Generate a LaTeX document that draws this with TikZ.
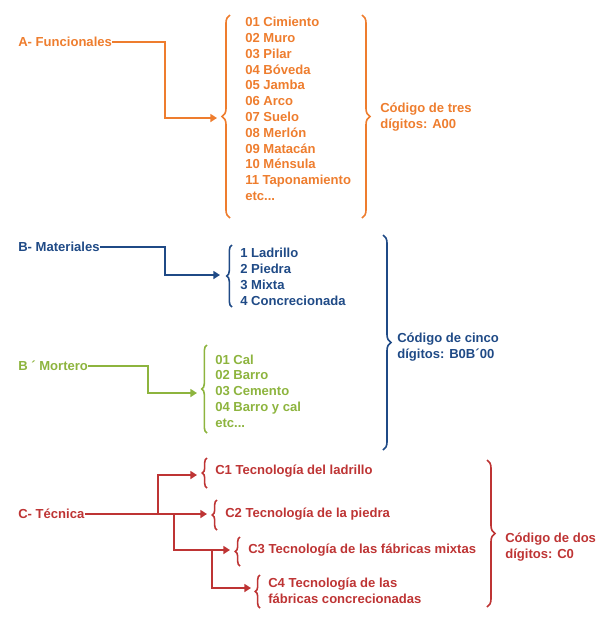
\documentclass[tikz,border=0pt]{standalone}
\usepackage{fontspec}
\setmainfont{Liberation Sans}
\usetikzlibrary{decorations.pathreplacing,arrows.meta}
\definecolor{cA}{HTML}{EE7D2E}
\definecolor{cB}{HTML}{1F4A86}
\definecolor{cM}{HTML}{8DB43E}
\definecolor{cC}{HTML}{BE3434}
\begin{document}
\begin{tikzpicture}[x=0.75pt,y=-0.75pt,
  lbl/.style={font=\bfseries\fontsize{9.8}{11.85}\selectfont,inner sep=0pt,anchor=west,align=left},
  conn/.style={line width=2.2pt,-{Triangle[length=5pt,width=6pt]}},
  br/.style={line width=1.2pt,decorate,decoration={brace,amplitude=#1}},
  br/.default=6pt]
\useasboundingbox (0,0) rectangle (600,633);
% A
\node[lbl,text=cA] (A) at (18,42) {A- Funcionales};
\node[lbl,text=cA] (Al) at (245,109) {01 Cimiento\\02 Muro\\03 Pilar\\04 Bóveda\\05 Jamba\\06 Arco\\07 Suelo\\08 Merlón\\09 Matacán\\10 Ménsula\\11 Taponamiento\\etc...};
\coordinate (Ab) at (217,118);
\draw[conn,cA] (A.east) -- (165,42) |- (Ab);
\draw[br,cA] (230,218) -- (230,15);
\draw[br,cA] (362,15) -- (362,218);
\node[lbl,text=cA] (Ac) at (380,117) {Código de tres\\dígitos: A00};
% B
\node[lbl,text=cB] (B) at (18,247) {B- Materiales};
\node[lbl,text=cB] (Bl) at (240,277) {1 Ladrillo\\2 Piedra\\3 Mixta\\4 Concrecionada};
\coordinate (Bb) at (220,275);
\draw[conn,cB] (B.east) -- (165,247) |- (Bb);
\draw[br=4pt,cB] (232,307) -- (232,245);
\draw[br,cB] (383,235) -- (383,450);
\node[lbl,text=cB] (Bc) at (397,347) {Código de cinco\\dígitos: B0B´00};
% B'
\node[lbl,text=cM] (M) at (18,366) {B ´ Mortero};
\node[lbl,text=cM] (Ml) at (215,391) {01 Cal\\02 Barro\\03 Cemento\\04 Barro y cal\\etc...};
\coordinate (Mb) at (197,393);
\draw[conn,cM] (M.east) -- (148,366) |- (Mb);
\draw[br=4pt,cM] (207,433) -- (207,345);
% C
\node[lbl,text=cC] (C) at (18,514) {C- Técnica};
\node[lbl,text=cC] (C1) at (215,471) {C1 Tecnología del ladrillo};
\node[lbl,text=cC] (C2) at (225,514) {C2 Tecnología de la piedra};
\node[lbl,text=cC] (C3) at (248,550) {C3 Tecnología de las fábricas mixtas};
\node[lbl,text=cC] (C4) at (268,591) {C4 Tecnología de las\\fábricas concrecionadas};
\coordinate (C1b) at (197,475);
\coordinate (C2b) at (207,514);
\coordinate (C3b) at (230,550);
\coordinate (C4b) at (251,588);
\draw[conn,cC] (C.east) -- (C2b);
\draw[conn,cC] (158,514) |- (C1b);
\draw[conn,cC] (174,514) |- (C3b);
\draw[conn,cC] (212,550) |- (C4b);
\draw[br=3.5pt,cC] (207,488) -- (207,458);
\draw[br=3.5pt,cC] (217,530) -- (217,500);
\draw[br=3.5pt,cC] (240,566) -- (240,537);
\draw[br=3.5pt,cC] (260,608) -- (260,575);
\draw[br,cC] (487,460) -- (487,607);
\node[lbl,text=cC] (Cc) at (505,547) {Código de dos\\dígitos: C0};
\end{tikzpicture}
\end{document}
